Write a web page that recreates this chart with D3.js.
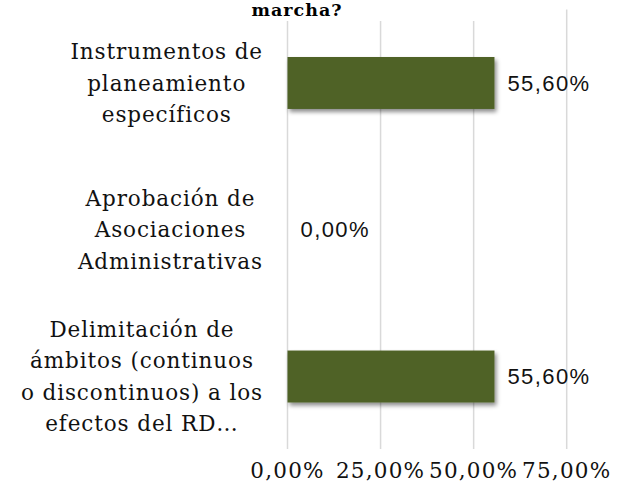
<!DOCTYPE html>
<html>
<head>
<meta charset="utf-8">
<script src="https://cdn.jsdelivr.net/npm/d3@7.9.0/dist/d3.min.js"></script>
<style>
  body { margin: 0; background: #fff; }
  svg { display: block; }
</style>
</head>
<body>
<svg id="chart" width="620" height="497"></svg>
<script>
const categories = [
  ['Instrumentos de', 'planeamiento', 'específicos'],
  ['Aprobación de', 'Asociaciones', 'Administrativas'],
  ['Delimitación de', 'ámbitos (continuos', 'o discontinuos) a los', 'efectos del RD…']
];
const values = [55.6, 0, 55.6];
const ticks = [0, 25, 50, 75];
const titleText = 'marcha?';

const svg = d3.select('#chart');
const serif = '"DejaVu Serif", serif';
const sans = '"Liberation Sans", Arial, sans-serif';

const fmt = v => v.toFixed(2).replace('.', ',') + '%';

const x = d3.scaleLinear().domain([0, 75]).range([287.5, 566.7]);
const y = d3.scaleBand()
  .domain(d3.range(categories.length))
  .range([9.6, 449.9])
  .paddingInner(0.646)
  .paddingOuter(0.323);

const defs = svg.append('defs');
const f = defs.append('filter').attr('id', 'shadow')
  .attr('x', '-10%').attr('y', '-20%').attr('width', '130%').attr('height', '160%');
f.append('feDropShadow')
  .attr('dx', 2).attr('dy', 3).attr('stdDeviation', 2.2)
  .attr('flood-color', '#000').attr('flood-opacity', 0.45);

// gridlines
svg.append('g')
  .selectAll('line')
  .data(ticks)
  .join('line')
  .attr('x1', d => x(d)).attr('x2', d => x(d))
  .attr('y1', 9.6).attr('y2', 449)
  .attr('stroke', '#d9d9d9')
  .attr('stroke-width', 1.5);

// title area covers top of gridlines
svg.append('rect')
  .attr('x', 30).attr('y', 0).attr('width', 525).attr('height', 21)
  .attr('fill', '#fff');
svg.append('text')
  .attr('x', 297).attr('y', 16)
  .attr('text-anchor', 'middle')
  .attr('font-family', serif)
  .attr('font-weight', 'bold')
  .attr('font-size', 17.5)
  .attr('letter-spacing', 1)
  .text(titleText);

// bars
svg.append('g')
  .selectAll('rect')
  .data(values)
  .join('rect')
  .attr('x', x(0))
  .attr('y', (d, i) => y(i))
  .attr('width', d => x(d) - x(0))
  .attr('height', y.bandwidth())
  .attr('fill', '#4f6228')
  .attr('filter', 'url(#shadow)')
  .style('display', d => d > 0 ? null : 'none');

// value labels
svg.append('g')
  .selectAll('text')
  .data(values)
  .join('text')
  .attr('x', d => x(d) + 13)
  .attr('y', (d, i) => y(i) + y.bandwidth() / 2)
  .attr('dy', '0.35em')
  .attr('font-family', sans)
  .attr('font-size', 22)
  .attr('letter-spacing', 1.4)
  .attr('fill', '#111')
  .text(d => fmt(d));

// category labels: block right edge at ~263, lines centered in block
const lineH = 31.3;
const labelG = svg.append('g');
categories.forEach((lines, i) => {
  const cy = y(i) + y.bandwidth() / 2;
  const t = labelG.append('text')
    .attr('font-family', serif)
    .attr('font-size', 21.5)
    .attr('letter-spacing', 0.9)
    .attr('fill', '#111')
    .attr('text-anchor', 'middle');
  const spans = t.selectAll('tspan')
    .data(lines)
    .join('tspan')
    .attr('y', (d, j) => cy + (j - (lines.length - 1) / 2) * lineH)
    .attr('dy', '0.35em')
    .text(d => d);
  let maxW = 0;
  spans.each(function () { maxW = Math.max(maxW, this.getComputedTextLength()); });
  spans.attr('x', 263 - maxW / 2);
});

// x tick labels
svg.append('g')
  .selectAll('text')
  .data(ticks)
  .join('text')
  .attr('x', d => x(d))
  .attr('y', 470)
  .attr('dy', '0.35em')
  .attr('text-anchor', 'middle')
  .attr('font-family', serif)
  .attr('font-size', 21.5)
  .attr('letter-spacing', 1.2)
  .attr('fill', '#111')
  .text(d => fmt(d));
</script>
</body>
</html>
